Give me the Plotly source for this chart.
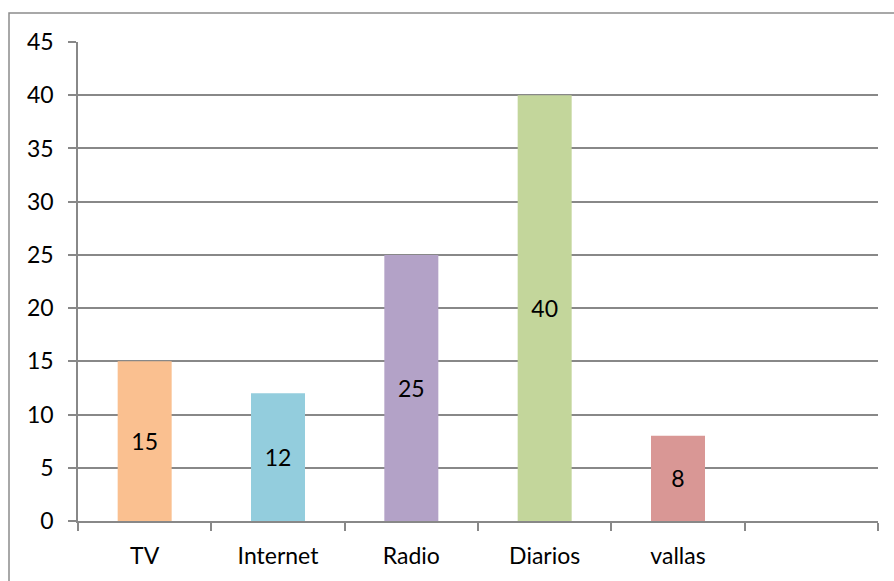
import plotly.graph_objects as go

categories = ['TV', 'Internet', 'Radio', 'Diarios', 'vallas', ' ']
values = [15, 12, 25, 40, 8, None]
labels = ['15', '12', '25', '40', '8', '']
bar_colors = ['#FAC090', '#93CDDD', '#B3A2C7', '#C3D69B', '#D99795', '#FFFFFF']
y_ticks = [0, 5, 10, 15, 20, 25, 30, 35, 40, 45]

font_name = 'Lato, Open Sans, sans-serif'
font_size = 23
grid_color = '#888888'

fig = go.Figure()
fig.add_trace(go.Bar(
    x=categories, y=values, text=labels,
    textposition='inside', insidetextanchor='middle',
    textfont=dict(size=font_size, color='black', family=font_name),
    marker=dict(color=bar_colors, line=dict(width=0)),
    hoverinfo='skip'
))

fig.update_xaxes(
    type='category', tickson='boundaries', ticks='outside', ticklen=8,
    tickcolor=grid_color, tickwidth=1.5,
    showline=True, linecolor=grid_color, linewidth=1.5,
    showgrid=False, tickfont=dict(size=font_size, color='black', family=font_name),
    ticklabelstandoff=14
)
fig.update_yaxes(
    range=[0, 45], tickvals=y_ticks, ticks='outside', ticklen=8,
    tickcolor=grid_color, tickwidth=1.5,
    showline=True, linecolor=grid_color, linewidth=1.5,
    showgrid=True, gridcolor=grid_color, gridwidth=1.5, zeroline=False,
    tickfont=dict(size=font_size, color='black', family=font_name),
    ticklabelstandoff=10
)

# outer chart border (runs off the right and bottom edges)
fig.add_shape(type='rect', xref='paper', yref='paper',
              x0=-0.08625, x1=1.2, y0=-0.3, y1=1.0605,
              line=dict(color='#8C8C8C', width=1.5), fillcolor='rgba(0,0,0,0)', layer='below')

fig.update_layout(
    width=894, height=581, bargap=0.595, showlegend=False,
    margin=dict(l=78, r=16, t=42, b=60),
    plot_bgcolor='white', paper_bgcolor='white',
    font=dict(family=font_name, color='black')
)

fig.write_html('out.html', config={'displayModeBar': False},
               post_script="document.body.style.margin='0';")
